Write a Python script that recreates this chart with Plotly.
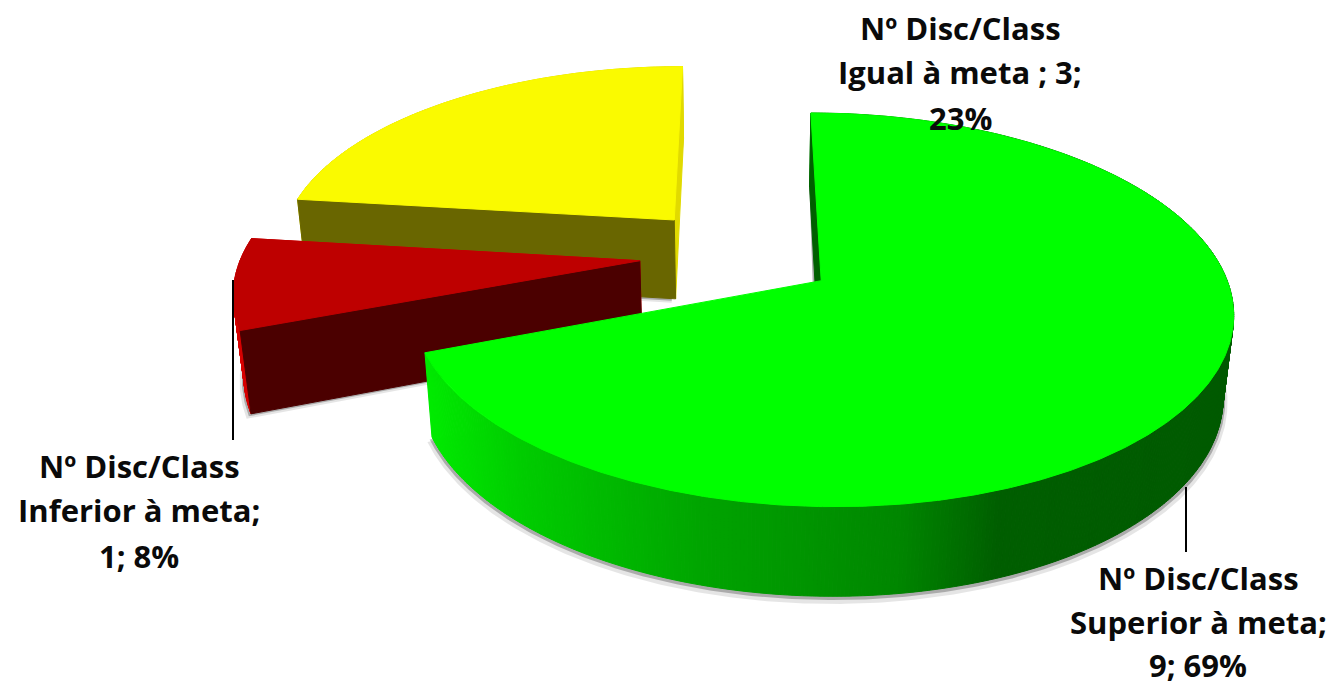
import numpy as np
import plotly.graph_objects as go

# ---- data ----
categories = ["Superior à meta", "Inferior à meta", "Igual à meta"]
values = [9, 1, 3]
top_colors = ["rgb(0,255,0)", "rgb(190,0,0)", "rgb(250,250,0)"]
start_face = ["rgb(0,95,0)", "rgb(75,0,0)", "rgb(105,102,0)"]
end_face = [None, "rgb(215,0,0)", "rgb(225,218,0)"]
explode = [0.24, 0.255, 0.26]
label_lines = [
    ["Nº Disc/Class", "Superior à meta;", "9; 69%"],
    ["Nº Disc/Class", "Inferior à meta;", "1; 8%"],
    ["Nº Disc/Class", "Igual à meta ; 3;", "23%"],
]
label_x = [1198, 139, 960]
label_y = [[578, 622, 665], [466, 510, 556], [28, 72, 118]]
leaders = [([1186, 1186], [487, 552]), ([233, 233], [280, 440])]

# ---- projection settings ----
X0, Y0, R, A, D, K, M = 741, 255, 398, 185, 82, 0.145, 0.021

def project(u, v, z=0.0):
    s = 1 / (1 + K * v + M * z)
    return X0 + R * u * s, Y0 + (-A * v + D * z) * s

total = sum(values)
sweeps = [360 * v / total for v in values]
starts = np.cumsum([0] + sweeps[:-1])

def wedge(i):
    a0, a1 = starts[i], starts[i] + sweeps[i]
    ang = np.radians(np.linspace(a0, a1, int(sweeps[i]) * 2))
    mid = np.radians((a0 + a1) / 2)
    cu, cv = explode[i] * np.sin(mid), explode[i] * np.cos(mid)
    return cu, cv, cu + np.sin(ang), cv + np.cos(ang)

fig = go.Figure()

def poly(x, y, fill, line=None):
    fig.add_trace(go.Scatter(
        x=list(x) + [x[0]], y=list(y) + [y[0]], mode="lines", fill="toself",
        fillcolor=fill, line=dict(color=line or "rgba(0,0,0,0)", width=1 if line else 0),
        hoverinfo="skip", showlegend=False))

def side_color(i, x):
    if i == 0:
        g = np.interp(x, [426, 520, 700, 900, 1000, 1240], [235, 205, 165, 135, 95, 90])
        return f"rgb(0,{int(g)},0)"
    return end_face[i]

for i in [2, 1, 0]:
    cu, cv, us, vs = wedge(i)
    # soft shadow under the wedge
    for grow, zz, alpha in [(1.012, 1.05, 0.10), (1.006, 1.025, 0.25)]:
        sx, sy = project(cu + (us - cu) * grow, cv + (vs - cv) * grow, zz)
        ax, ay = project(cu, cv, zz)
        poly(list(sx) + [ax - 4], list(sy) + [ay], f"rgba(0,0,0,{alpha})")
    # outer wall strips
    for j in range(len(us) - 1):
        xa, ya = project(us[j:j + 2], vs[j:j + 2], 0)
        xb, yb = project(us[j:j + 2], vs[j:j + 2], 1)
        c = side_color(i, (xa[0] + xa[1]) / 2)
        poly([xa[0], xa[1], xb[1], xb[0]], [ya[0], ya[1], yb[1], yb[0]], c, c)
    # cut faces
    ax, ay = project(cu, cv, 0)
    bx, by = project(cu, cv, 1)
    for idx, col in [(-1, end_face[i]), (0, start_face[i])]:
        if col is None:
            continue
        px, py = project(us[idx], vs[idx], 0)
        qx, qy = project(us[idx], vs[idx], 1)
        poly([px, ax, bx, qx], [py, ay, by, qy], col, col)
    # top face
    tx, ty = project(us, vs, 0)
    poly(list(tx) + [ax], list(ty) + [ay], top_colors[i], top_colors[i])

for lx, ly in leaders:
    fig.add_trace(go.Scatter(x=lx, y=ly, mode="lines", line=dict(color="black", width=2),
                             hoverinfo="skip", showlegend=False))

for i in range(3):
    for text, y in zip(label_lines[i], label_y[i]):
        fig.add_annotation(x=label_x[i], y=y, text=f"<b>{text}</b>", showarrow=False,
                           xanchor="center", yanchor="middle",
                           font=dict(family="Open Sans", size=31, color="#0a0a0a"))

fig.update_layout(
    width=1337, height=687, margin=dict(l=0, r=0, t=0, b=0),
    paper_bgcolor="white", plot_bgcolor="white", showlegend=False,
    xaxis=dict(range=[0, 1337], visible=False, fixedrange=True),
    yaxis=dict(range=[687, 0], visible=False, fixedrange=True),
)
fig.write_html("out.html", config={"displayModeBar": False},
               post_script="document.body.style.margin='0';")
